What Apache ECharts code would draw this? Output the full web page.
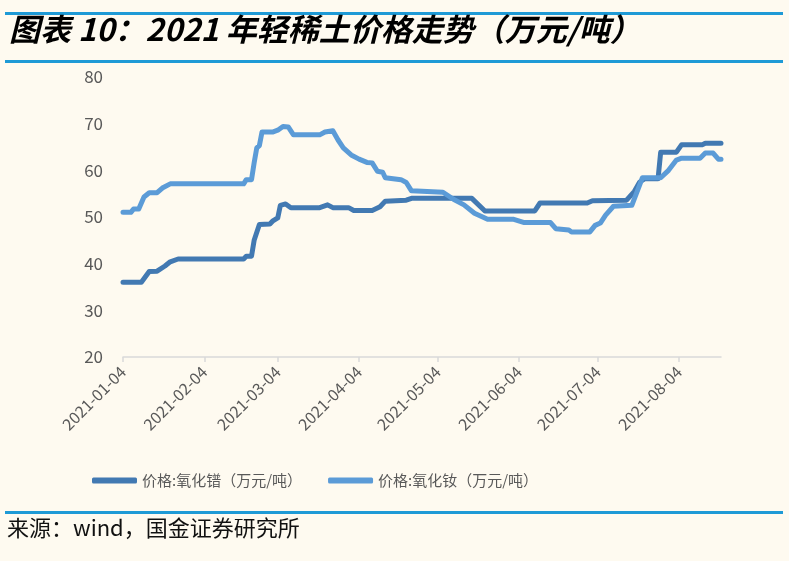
<!DOCTYPE html>
<html>
<head>
<meta charset="utf-8">
<script src="https://cdn.jsdelivr.net/npm/echarts@6/dist/echarts.min.js"></script>
<style>
html,body{margin:0;padding:0;background:#FEFAF0;}
#chart{width:789px;height:561px;}
</style>
</head>
<body>
<div id="chart"></div>
<script>
// ---- data ----
const titleText = '图表 10：2021 年轻稀土价格走势（万元/吨）';
const sourceText = '来源：wind，国金证券研究所';
const seriesNames = ['价格:氧化镨（万元/吨）', '价格:氧化钕（万元/吨）'];
const startDate = '2021-01-04';
const endDate = '2021-08-20';
const yTicks = [20, 30, 40, 50, 60, 70, 80];

const prDates = ['2021-01-04','2021-01-11','2021-01-14','2021-01-17','2021-01-20','2021-01-22','2021-01-25','2021-02-19','2021-02-20','2021-02-22','2021-02-23','2021-02-25','2021-03-01','2021-03-02','2021-03-04','2021-03-05','2021-03-07','2021-03-09','2021-03-20','2021-03-23','2021-03-25','2021-03-31','2021-04-02','2021-04-09','2021-04-12','2021-04-14','2021-04-22','2021-04-24','2021-05-17','2021-05-22','2021-06-10','2021-06-12','2021-06-30','2021-07-02','2021-07-15','2021-07-18','2021-07-20','2021-07-22','2021-07-27','2021-07-28','2021-08-03','2021-08-05','2021-08-13','2021-08-14','2021-08-20'];
const prValues = [36,36,38.3,38.4,39.5,40.4,41,41,41.6,41.6,45,48.4,48.5,49.1,49.8,52.5,52.8,52,52,52.6,52,52,51.4,51.4,52.2,53.4,53.6,54,54,51.3,51.3,53,53,53.5,53.6,55.5,57.5,58.2,58.2,63.9,63.9,65.5,65.5,65.8,65.8];

const ndDates = ['2021-01-04','2021-01-07','2021-01-08','2021-01-10','2021-01-12','2021-01-14','2021-01-17','2021-01-19','2021-01-22','2021-02-19','2021-02-20','2021-02-22','2021-02-23','2021-02-24','2021-02-25','2021-02-26','2021-03-02','2021-03-04','2021-03-06','2021-03-08','2021-03-10','2021-03-20','2021-03-22','2021-03-25','2021-03-27','2021-03-29','2021-04-01','2021-04-04','2021-04-07','2021-04-09','2021-04-11','2021-04-13','2021-04-14','2021-04-20','2021-04-22','2021-04-24','2021-05-06','2021-05-10','2021-05-14','2021-05-18','2021-05-23','2021-06-02','2021-06-06','2021-06-16','2021-06-18','2021-06-23','2021-06-24','2021-07-01','2021-07-03','2021-07-05','2021-07-07','2021-07-10','2021-07-17','2021-07-20','2021-07-21','2021-07-28','2021-07-31','2021-08-03','2021-08-05','2021-08-12','2021-08-14','2021-08-17','2021-08-19','2021-08-20'];
const ndValues = [51,51,51.7,51.7,54.3,55.2,55.2,56.2,57.1,57.1,58,58,61.6,64.8,65.3,68.2,68.2,68.6,69.4,69.3,67.6,67.6,68.2,68.5,66.5,64.8,63.3,62.4,61.7,61.6,59.8,59.6,58.4,58,57.4,55.6,55.3,53.8,52.6,50.8,49.5,49.5,48.8,48.8,47.5,47.2,46.8,46.8,48.2,48.7,50.4,52.3,52.5,56.9,58.4,58.4,60,62.2,62.6,62.6,63.7,63.7,62.4,62.4];

// calendar-day categories for the date axis
function buildDays(a, b) {
  const out = [];
  let t = Date.parse(a + 'T00:00:00Z');
  const e = Date.parse(b + 'T00:00:00Z');
  while (t <= e) { out.push(new Date(t).toISOString().slice(0, 10)); t += 86400000; }
  return out;
}
const days = buildDays(startDate, endDate);
const isTickDay = (i, v) => v.slice(8) === '04';

const prColor = '#4279B2';
const ndColor = '#5B9BD7';
const ruleColor = '#1E9AD6';

const chart = echarts.init(document.getElementById('chart'), null, {renderer: 'canvas'});
chart.setOption({
  backgroundColor: '#FEFAF0',
  animation: false,
  textStyle: {fontFamily: '"Noto Sans CJK SC", "Noto Sans", sans-serif'},
  graphic: [
    {type: 'rect', shape: {x: 5, y: 12, width: 778, height: 3}, style: {fill: ruleColor}},
    {type: 'rect', shape: {x: 5, y: 60, width: 778, height: 3}, style: {fill: ruleColor}},
    {type: 'rect', shape: {x: 5, y: 511, width: 778, height: 3}, style: {fill: ruleColor}},
    {type: 'text', left: 9, top: 14, style: {text: titleText, fill: '#000', font: 'italic bold 31px "Noto Sans CJK SC", sans-serif'}},
    {type: 'text', left: 7, top: 517, style: {text: sourceText, fill: '#111', font: '22px "Noto Sans CJK SC", sans-serif'}}
  ],
  grid: {left: 123, right: 68, top: 77, bottom: 204, containLabel: false},
  legend: {
    bottom: 68, left: 87,
    itemWidth: 45, itemHeight: 6, itemGap: 26,
    icon: 'roundRect',
    textStyle: {color: '#595959', fontSize: 15},
    data: seriesNames
  },
  xAxis: {
    type: 'category',
    data: days,
    boundaryGap: false,
    axisLine: {lineStyle: {color: '#D9D9D9', width: 1.5}},
    axisTick: {interval: isTickDay, length: 5, lineStyle: {color: '#D9D9D9', width: 1.5}},
    axisLabel: {interval: isTickDay, rotate: 45, color: '#595959', fontSize: 16, margin: 12}
  },
  yAxis: {
    type: 'value', min: yTicks[0], max: yTicks[yTicks.length - 1], interval: 10,
    axisLine: {show: false}, axisTick: {show: false}, splitLine: {show: false},
    axisLabel: {color: '#595959', fontSize: 17, margin: 20}
  },
  series: [
    {
      name: seriesNames[0], type: 'line', showSymbol: false,
      data: prDates.map((d, i) => [d, prValues[i]]),
      itemStyle: {color: prColor},
      lineStyle: {color: prColor, width: 5, cap: 'round', join: 'round'}
    },
    {
      name: seriesNames[1], type: 'line', showSymbol: false,
      data: ndDates.map((d, i) => [d, ndValues[i]]),
      itemStyle: {color: ndColor},
      lineStyle: {color: ndColor, width: 5, cap: 'round', join: 'round'}
    }
  ]
});
</script>
</body>
</html>
